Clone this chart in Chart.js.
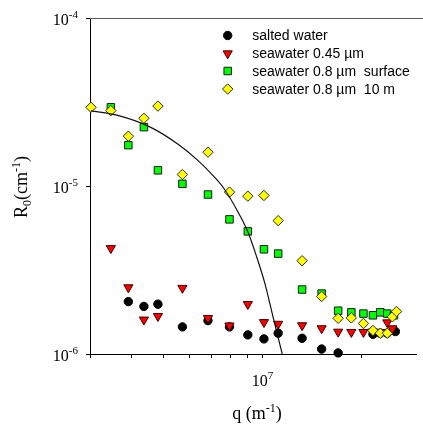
<!DOCTYPE html>
<html>
<head>
<meta charset="utf-8">
<script src="https://cdn.jsdelivr.net/npm/chart.js@4.4.1/dist/chart.umd.min.js"></script>
<style>
  html, body { margin: 0; padding: 0; background: #fff; overflow: hidden; }
  #wrap { width: 423px; height: 426px; }
</style>
</head>
<body>
<div id="wrap"><canvas id="chart" width="423" height="426"></canvas></div>
<script>
(() => {
  /* -----------------------------
   * Data
   * ----------------------------- */
  const saltedQ = [3.9e6, 4.35e6, 4.8e6, 5.7e6, 6.82e6, 7.93e6, 9.02e6, 1.01e7, 1.116e7, 1.32e7, 1.514e7, 1.70e7, 2.17e7, 2.285e7, 2.40e7, 2.54e7];
  const saltedR = [2.05e-6, 1.92e-6, 1.98e-6, 1.45e-6, 1.58e-6, 1.45e-6, 1.30e-6, 1.23e-6, 1.33e-6, 1.24e-6, 1.07e-6, 1.015e-6, 1.31e-6, 1.33e-6, 1.33e-6, 1.36e-6];

  const sw045Q = [3.45e6, 3.9e6, 4.35e6, 4.8e6, 5.7e6, 6.82e6, 7.93e6, 9.02e6, 1.01e7, 1.116e7, 1.32e7, 1.514e7, 1.70e7, 1.865e7, 2.03e7, 2.17e7, 2.285e7, 2.40e7, 2.487e7];
  const sw045R = [4.26e-6, 2.49e-6, 1.60e-6, 1.68e-6, 2.47e-6, 1.635e-6, 1.475e-6, 1.98e-6, 1.545e-6, 1.51e-6, 1.48e-6, 1.42e-6, 1.355e-6, 1.35e-6, 1.35e-6, 1.36e-6, 1.35e-6, 1.54e-6, 1.42e-6];

  const sw08sQ = [3.45e6, 3.9e6, 4.35e6, 4.8e6, 5.7e6, 6.82e6, 7.93e6, 9.02e6, 1.01e7, 1.116e7, 1.32e7, 1.514e7, 1.70e7, 1.865e7, 2.03e7, 2.17e7, 2.285e7, 2.40e7, 2.515e7];
  const sw08sR = [2.94e-5, 1.75e-5, 2.24e-5, 1.24e-5, 1.03e-5, 8.9e-6, 6.33e-6, 5.37e-6, 4.2e-6, 3.96e-6, 2.42e-6, 2.29e-6, 1.81e-6, 1.77e-6, 1.74e-6, 1.70e-6, 1.77e-6, 1.74e-6, 1.70e-6];

  const sw0810Q = [3.0e6, 3.45e6, 3.9e6, 4.35e6, 4.8e6, 5.7e6, 6.82e6, 7.93e6, 9.02e6, 1.01e7, 1.116e7, 1.32e7, 1.514e7, 1.70e7, 1.865e7, 2.03e7, 2.17e7, 2.285e7, 2.40e7, 2.487e7, 2.56e7];
  const sw0810R = [2.94e-5, 2.81e-5, 1.98e-5, 2.53e-5, 2.99e-5, 1.17e-5, 1.59e-5, 9.2e-6, 8.7e-6, 8.78e-6, 6.22e-6, 3.59e-6, 2.2e-6, 1.63e-6, 1.64e-6, 1.52e-6, 1.38e-6, 1.33e-6, 1.33e-6, 1.665e-6, 1.79e-6];

  // fitted curve
  const fitQ = [3.0e6, 3.62e6, 4.55e6, 5.53e6, 6.35e6, 6.96e6, 7.63e6, 8.36e6, 9.02e6, 9.59e6, 1.016e7, 1.076e7, 1.114e7, 1.148e7];
  const fitR = [2.8e-5, 2.63e-5, 2.24e-5, 1.77e-5, 1.42e-5, 1.19e-5, 9.66e-6, 7.18e-6, 5.34e-6, 3.8e-6, 2.64e-6, 1.67e-6, 1.27e-6, 1.0e-6];

  const xTicks = [3e6, 4e6, 5e6, 6e6, 7e6, 8e6, 9e6, 1e7, 2e7];
  const xTickLabels = [[1e7, "10", "7"]];
  const yTicks = [1e-6, 1e-5, 1e-4];
  const yTickLabels = [[1e-4, "10", "-4"], [1e-5, "10", "-5"], [1e-6, "10", "-6"]];

  /* -----------------------------
   * Styles
   * ----------------------------- */
  const SERIF = '"Liberation Serif", "Times New Roman", serif';
  const SANS = '"Liberation Sans", Arial, sans-serif';

  const series = [
    { label: "salted water", q: saltedQ, r: saltedR, style: "circle", radius: 4.2, rotation: 0, fill: "#000000", stroke: "#000000", order: 5 },
    { label: "seawater 0.45 \u00b5m", q: sw045Q, r: sw045R, style: "triangle", radius: 5.3, rotation: 180, fill: "#ff0000", stroke: "#3a0000", order: 4 },
    { label: "seawater 0.8 \u00b5m  surface", q: sw08sQ, r: sw08sR, style: "rect", radius: 5.3, rotation: 0, fill: "#00ff00", stroke: "#1a1a1a", order: 3 },
    { label: "seawater 0.8 \u00b5m  10 m", q: sw0810Q, r: sw0810R, style: "rectRot", radius: 5.2, rotation: 0, fill: "#ffff00", stroke: "#2a2a2a", order: 2 },
  ];

  const pts = (qs, rs) => qs.map((q, i) => ({ x: q, y: rs[i] }));

  const datasets = series.map((s) => ({
    type: "scatter",
    label: s.label,
    data: pts(s.q, s.r),
    pointStyle: s.style,
    pointRadius: s.radius,
    pointRotation: s.rotation,
    pointBackgroundColor: s.fill,
    pointBorderColor: s.stroke,
    pointBorderWidth: 1,
    order: s.order,
    clip: false,
  }));

  datasets.push({
    type: "line",
    label: "fit",
    data: pts(fitQ, fitR),
    borderColor: "#111",
    borderWidth: 1.2,
    pointRadius: 0,
    fill: false,
    cubicInterpolationMode: "monotone",
    order: 1,
  });

  /* -----------------------------
   * Helpers
   * ----------------------------- */
  function richText(ctx, parts, x, y, align) {
    let w = 0;
    for (const p of parts) {
      ctx.font = `${p.size}px ${p.family || SERIF}`;
      p.w = ctx.measureText(p.t).width;
      w += p.w;
    }
    let cx = align === "center" ? x - w / 2 : align === "right" ? x - w : x;
    ctx.textAlign = "left";
    ctx.textBaseline = "alphabetic";
    for (const p of parts) {
      ctx.font = `${p.size}px ${p.family || SERIF}`;
      ctx.fillText(p.t, cx, y + (p.dy || 0));
      cx += p.w;
    }
  }

  function noPadding(s) {
    s.paddingLeft = 0;
    s.paddingRight = 0;
    s.paddingTop = 0;
    s.paddingBottom = 0;
  }

  const decorations = {
    id: "decorations",
    afterDraw(chart) {
      const { ctx, chartArea: a, scales } = chart;
      const xs = scales.x;
      const ys = scales.y;
      ctx.save();

      // top frame line
      ctx.strokeStyle = "#5a5a5a";
      ctx.lineWidth = 1;
      ctx.beginPath();
      ctx.moveTo(a.left, Math.round(a.top) + 0.5);
      ctx.lineTo(chart.width, Math.round(a.top) + 0.5);
      ctx.stroke();

      ctx.fillStyle = "#000";

      // y tick labels
      for (const [v, base, exp] of yTickLabels) {
        const py = ys.getPixelForValue(v);
        richText(ctx, [
          { t: base, size: 16 },
          { t: exp, size: 11, dy: -6.5 },
        ], a.left - 12, py + 6.5, "right");
      }

      // x tick labels
      for (const [v, base, exp] of xTickLabels) {
        const px = xs.getPixelForValue(v);
        richText(ctx, [
          { t: base, size: 16 },
          { t: exp, size: 11, dy: -6.5 },
        ], px, a.bottom + 31.5, "center");
      }

      // axis titles
      richText(ctx, [
        { t: "q (m", size: 18 },
        { t: "-1", size: 12, dy: -7 },
        { t: ")", size: 18 },
      ], 257, 419, "center");

      ctx.save();
      ctx.translate(26.5, 187);
      ctx.rotate(-Math.PI / 2);
      richText(ctx, [
        { t: "R", size: 18 },
        { t: "0", size: 12, dy: 4 },
        { t: "(cm", size: 18 },
        { t: "-1", size: 12, dy: -7 },
        { t: ")", size: 18 },
      ], 0, 0, "center");
      ctx.restore();

      // legend
      const lx = 227.7;
      const rows = [35.5, 53.5, 71, 89];
      series.forEach((s, i) => {
        ctx.fillStyle = s.fill;
        ctx.strokeStyle = s.stroke;
        ctx.lineWidth = 1;
        Chart.helpers.drawPoint(ctx, {
          pointStyle: s.style,
          radius: s.radius,
          rotation: s.rotation,
          borderWidth: 1,
        }, lx, rows[i]);
        ctx.fillStyle = "#000";
        ctx.font = `14px ${SANS}`;
        ctx.textAlign = "left";
        ctx.textBaseline = "middle";
        ctx.fillText(s.label, 252.3, rows[i] + 1);
      });

      ctx.restore();
    },
  };

  /* -----------------------------
   * Chart
   * ----------------------------- */
  new Chart(document.getElementById("chart"), {
    type: "scatter",
    data: { datasets },
    options: {
      responsive: false,
      animation: false,
      events: [],
      layout: { padding: { top: 18, right: 0, left: 0, bottom: 0 } },
      plugins: {
        legend: { display: false },
        tooltip: { enabled: false },
      },
      scales: {
        x: {
          type: "logarithmic",
          min: 2.98e6,
          max: 2.95e7,
          afterBuildTicks: (s) => { s.ticks = xTicks.map((v) => ({ value: v })); },
          afterFit: (s) => { s.height = 72; noPadding(s); },
          ticks: { display: false },
          grid: { drawOnChartArea: false, drawTicks: true, tickLength: 4, color: "#000", lineWidth: 1 },
          border: { display: true, color: "#000", width: 1 },
        },
        y: {
          type: "logarithmic",
          min: 1e-6,
          max: 1e-4,
          afterBuildTicks: (s) => { s.ticks = yTicks.map((v) => ({ value: v })); },
          afterFit: (s) => { s.width = 90; noPadding(s); },
          ticks: { display: false },
          grid: { drawOnChartArea: false, drawTicks: true, tickLength: 4, color: "#000", lineWidth: 1 },
          border: { display: true, color: "#000", width: 1 },
        },
      },
    },
    plugins: [decorations],
  });
})();
</script>
</body>
</html>
